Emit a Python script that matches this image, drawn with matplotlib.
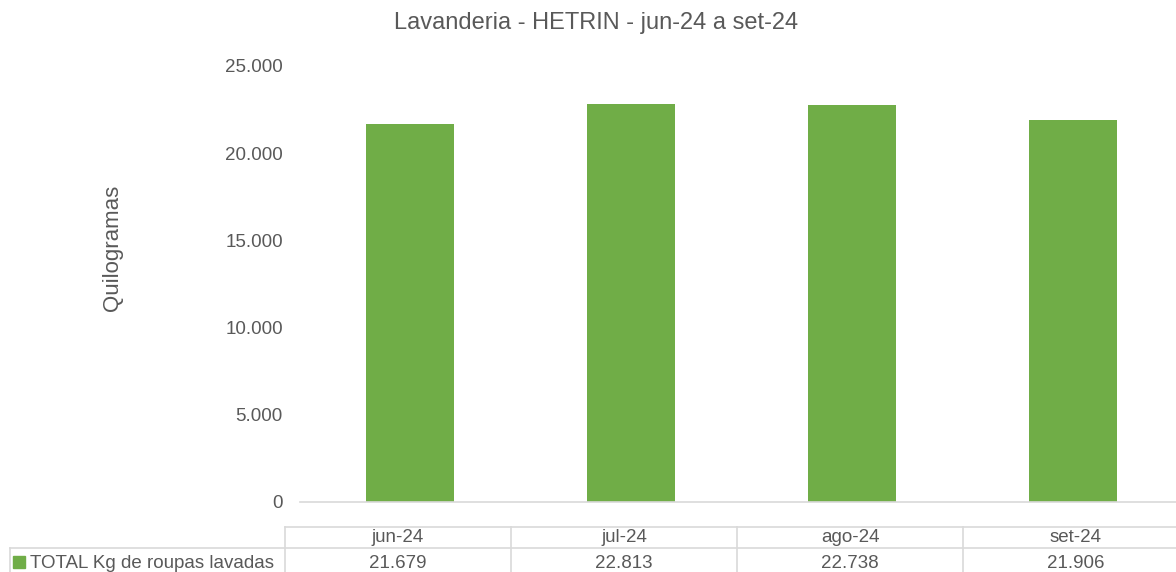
import matplotlib
matplotlib.use("Agg")
import matplotlib.pyplot as plt
from matplotlib.ticker import FuncFormatter
from matplotlib.patches import Rectangle

# monthly totals of washed clothes (kg)
months = ['jun-24', 'jul-24', 'ago-24', 'set-24']
kg_lavados = [21679, 22813, 22738, 21906]
series_name = 'TOTAL Kg de roupas lavadas'
title = 'Lavanderia - HETRIN - jun-24 a set-24'

GREEN = '#70AD47'
TEXT = '#595959'
GRID = '#D9D9D9'

plt.rcParams['font.family'] = ['Liberation Sans', 'DejaVu Sans']

W, H = 1176, 572
fig = plt.figure(figsize=(W / 100, H / 100), dpi=100)


def px_axes(x0, y0, x1, y1):
    # axes from pixel box (top-left origin)
    return fig.add_axes([x0 / W, 1 - y1 / H, (x1 - x0) / W, (y1 - y0) / H])


def fmt(v):
    return f'{int(v):,}'.replace(',', '.')


# main bar chart
ax = px_axes(299.5, 66, 1183.5, 502)
x = range(len(months))
ax.bar(x, kg_lavados, width=0.4, color=GREEN, zorder=2)
ax.set_xlim(-0.5, len(months) - 0.5)
ax.set_ylim(0, 25000)
ax.set_yticks(range(0, 25001, 5000))
ax.yaxis.set_major_formatter(FuncFormatter(lambda v, p: fmt(v)))
ax.set_xticks([])
for s in ['top', 'right', 'left']:
    ax.spines[s].set_visible(False)
ax.spines['bottom'].set_color(GRID)
ax.spines['bottom'].set_linewidth(1.2)
ax.tick_params(axis='y', length=0, pad=12, labelsize=13.5, labelcolor=TEXT)
ax.set_ylabel('Quilogramas', fontsize=16, color=TEXT, va='center')
ax.yaxis.set_label_coords(-0.212, 0.584)

fig.text(596 / W, 1 - 23 / H, title, ha='center', va='center', fontsize=17, color=TEXT)

# data table under the chart
tab = px_axes(285, 527, 1189, 572)
tab.set_xlim(-0.5, len(months) - 0.5)
tab.set_ylim(0, 45)
tab.axis('off')
lw = 1.2
tab.plot([-0.5, 3.5], [45, 45], color=GRID, lw=lw, clip_on=False)
x_left = -0.5 - (285 - 10) / 226
tab.plot([x_left, 3.5], [24, 24], color=GRID, lw=lw, clip_on=False)
for k in range(len(months)):
    tab.plot([k - 0.5, k - 0.5], [0, 45], color=GRID, lw=lw, clip_on=False)
    tab.text(k, 34, months[k], ha='center', va='center', fontsize=13.5, color=TEXT)
    tab.text(k, 9, fmt(kg_lavados[k]), ha='center', va='center', fontsize=13.5, color=TEXT)
tab.plot([x_left, x_left], [0, 24], color=GRID, lw=lw, clip_on=False)

# legend key in the row header
key = (13 - 285) / 226 - 0.5
tab.add_patch(Rectangle((key, 4), 12 / 226, 12, color=GREEN, clip_on=False))
tab.text((30 - 285) / 226 - 0.5, 9, series_name, ha='left', va='center',
         fontsize=13.5, color=TEXT, clip_on=False)

fig.savefig('out.png', dpi=100)
